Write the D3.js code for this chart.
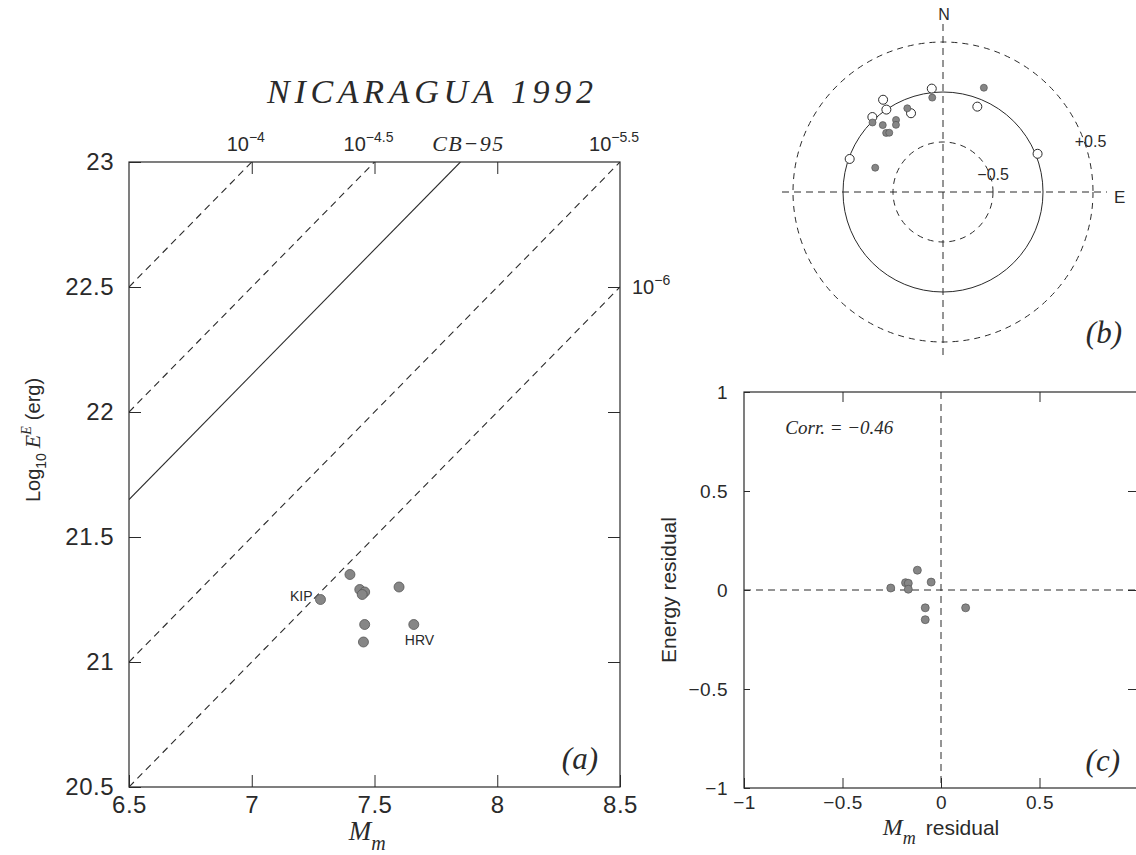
<!DOCTYPE html>
<html>
<head>
<meta charset="utf-8">
<script src="https://cdn.jsdelivr.net/npm/d3@7"></script>
<style>
  body { margin: 0; background: #fff; }
</style>
</head>
<body>
<svg id="chart" width="1136" height="855"></svg>
<script>
// Panel (a): mantle magnitude and radiated energy, one entry per station.
var stationMm = [7.28, 7.40, 7.44, 7.46, 7.45, 7.60, 7.46, 7.455, 7.66];
var stationLogE = [21.25, 21.35, 21.29, 21.28, 21.27, 21.30, 21.15, 21.08, 21.15];
var stationNames = ['KIP', '', '', '', '', '', '', '', 'HRV'];

// Reference lines: log10 E = Mm + offset (theta = E / M0).
var thetaOffsets = [16, 15.5, 15.15, 14.5, 14];
var thetaLabels = ['−4', '−4.5', 'CB−95', '−5.5', '−6'];
var thetaDashed = [true, true, false, true, true];

// Panel (a) tick labels.
var aXTicks = [6.5, 7, 7.5, 8, 8.5];
var aYTicks = [20.5, 21, 21.5, 22, 22.5, 23];

// Panel (b): energy residuals against station azimuth (degrees from N).
var filledAzimuth = [21.4, 353.5, 336.9, 314.6, 318, 326.9, 325, 316.1, 317.8, 289.7];
var filledResidual = [0.12, -0.05, -0.09, -0.01, -0.10, -0.14, -0.18, -0.18, -0.20, -0.28];
var openAzimuth = [353.8, 327, 325.5, 316.7, 337.9, 21.9, 289.5, 68];
var openResidual = [0.04, 0.10, 0.00, 0.03, -0.15, -0.08, -0.01, 0.02];
var ringValues = [-0.5, 0, 0.5];

// Panel (c): magnitude residual against energy residual.
var mmResidual = [-0.12, -0.18, -0.166, -0.166, -0.255, -0.05, -0.08, -0.08, 0.125];
var energyResidual = [0.10, 0.037, 0.034, 0.004, 0.01, 0.04, -0.09, -0.15, -0.09];
var cTicks = [-1, -0.5, 0, 0.5, 1];
var corrValue = -0.46;

var SANS = 'Liberation Sans, Arial, sans-serif';
var SERIF = 'Liberation Serif, Times New Roman, serif';
var INK = '#2a2a2a';
var DOT = '#868686';

var svg = d3.select('#chart');
var fmt = d3.format('');

// Strip the domain path and give ticks/labels the scanned-plot look.
function styleAxis(g, size) {
  g.select('.domain').remove();
  g.selectAll('.tick line').attr('stroke', INK).attr('stroke-width', 1);
  g.selectAll('.tick text')
    .attr('font-family', SANS)
    .attr('font-size', size)
    .attr('letter-spacing', 0.5)
    .attr('fill', INK);
}

// ---------------- Panel (a) ----------------
var ax = d3.scaleLinear().domain([6.5, 8.5]).range([129, 620]);
var ay = d3.scaleLinear().domain([20.5, 23]).range([787, 162]);
var pa = svg.append('g');

pa.append('defs').append('clipPath').attr('id', 'clipA')
  .append('rect')
  .attr('x', ax(6.5)).attr('y', ay(23))
  .attr('width', ax(8.5) - ax(6.5)).attr('height', ay(20.5) - ay(23));

pa.append('g').attr('transform', 'translate(0,' + ay(20.5) + ')')
  .call(d3.axisBottom(ax).tickValues(aXTicks).tickSizeInner(-12).tickSizeOuter(0)
    .tickPadding(9).tickFormat(fmt))
  .call(styleAxis, 24);

pa.append('g').attr('transform', 'translate(' + ax(6.5) + ',0)')
  .call(d3.axisLeft(ay).tickValues(aYTicks).tickSizeInner(-12).tickSizeOuter(0)
    .tickPadding(15).tickFormat(fmt))
  .call(styleAxis, 24);

pa.append('g').attr('transform', 'translate(0,' + ay(23) + ')')
  .call(d3.axisTop(ax).tickValues(aXTicks.slice(1, -1)).tickSizeInner(-12)
    .tickSizeOuter(0).tickFormat(function() { return ''; }))
  .call(styleAxis, 1);

pa.append('g').attr('transform', 'translate(' + ax(8.5) + ',0)')
  .call(d3.axisRight(ay).tickValues(aYTicks.slice(1, -1)).tickSizeInner(-12)
    .tickSizeOuter(0).tickFormat(function() { return ''; }))
  .call(styleAxis, 1);

pa.append('rect')
  .attr('x', ax(6.5)).attr('y', ay(23))
  .attr('width', ax(8.5) - ax(6.5)).attr('height', ay(20.5) - ay(23))
  .attr('fill', 'none').attr('stroke', INK).attr('stroke-width', 1.2);

// Constant-theta lines, cut where they leave the frame.
var lineGen = d3.line();
thetaOffsets.forEach(function(c, i) {
  var x1 = Math.min(8.5, 23 - c);
  pa.append('path')
    .attr('clip-path', 'url(#clipA)')
    .attr('d', lineGen([[ax(6.5), ay(6.5 + c)], [ax(x1), ay(x1 + c)]]))
    .attr('fill', 'none')
    .attr('stroke', INK)
    .attr('stroke-width', 1.1)
    .attr('stroke-dasharray', thetaDashed[i] ? '7,5' : null);

  // Label each line where it exits the frame (top edge or right edge).
  var exitsTop = (8.5 + c) >= 23 - 1e-9;
  var lab = pa.append('text').attr('fill', INK);
  if (!thetaDashed[i]) {
    lab.attr('x', ax(x1) + 8).attr('y', ay(23) - 11)
      .attr('text-anchor', 'middle')
      .attr('font-family', SERIF).attr('font-style', 'italic')
      .attr('font-size', 22).attr('letter-spacing', 1.5)
      .text(thetaLabels[i]);
    return;
  }
  if (exitsTop) {
    lab.attr('x', ax(x1) - 6).attr('y', ay(23) - 11).attr('text-anchor', 'middle');
  } else {
    lab.attr('x', ax(8.5) + 12).attr('y', ay(x1 + c) + 7).attr('text-anchor', 'start');
  }
  lab.append('tspan').attr('font-family', SANS).attr('font-size', 20).text('10');
  lab.append('tspan').attr('font-family', SANS).attr('font-size', 14)
    .attr('dy', -9).text(thetaLabels[i]);
});

// Station points.
pa.selectAll('circle.st')
  .data(stationMm)
  .enter().append('circle')
  .attr('class', 'st')
  .attr('cx', function(d) { return ax(d); })
  .attr('cy', function(d, i) { return ay(stationLogE[i]); })
  .attr('r', 5)
  .attr('fill', DOT)
  .attr('stroke', '#555')
  .attr('stroke-width', 0.8);

stationNames.forEach(function(name, i) {
  if (!name) return;
  var px = ax(stationMm[i]), py = ay(stationLogE[i]);
  var t = pa.append('text')
    .attr('font-family', SANS).attr('font-size', 14).attr('fill', INK)
    .text(name);
  if (i === 0) {
    t.attr('x', px - 8).attr('y', py + 1).attr('text-anchor', 'end');
  } else {
    t.attr('x', px - 9).attr('y', py + 20);
  }
});

// Title, axis titles and panel tag.
svg.append('text')
  .attr('x', 430).attr('y', 103)
  .attr('text-anchor', 'middle')
  .attr('font-family', SERIF).attr('font-style', 'italic')
  .attr('font-size', 34).attr('fill', INK)
  .attr('textLength', 326).attr('lengthAdjust', 'spacing')
  .text('NICARAGUA 1992');

var yLab = svg.append('text')
  .attr('transform', 'translate(40,440) rotate(-90)')
  .attr('text-anchor', 'middle').attr('fill', INK);
yLab.append('tspan').attr('font-family', SANS).attr('font-size', 20).text('Log');
yLab.append('tspan').attr('font-family', SANS).attr('font-size', 14).attr('dy', 6).text('10');
yLab.append('tspan').attr('font-family', SERIF).attr('font-style', 'italic')
  .attr('font-size', 22).attr('dy', -6).attr('dx', 5).text('E');
yLab.append('tspan').attr('font-family', SERIF).attr('font-style', 'italic')
  .attr('font-size', 14).attr('dy', -9).text('E');
yLab.append('tspan').attr('font-family', SANS).attr('font-size', 20)
  .attr('dy', 9).attr('dx', 6).text('(erg)');

var xLab = svg.append('text')
  .attr('x', ax(7.47)).attr('y', 840)
  .attr('text-anchor', 'middle').attr('fill', INK)
  .attr('font-family', SERIF).attr('font-style', 'italic');
xLab.append('tspan').attr('font-size', 27).text('M');
xLab.append('tspan').attr('font-size', 20).attr('dy', 10).text('m');

svg.append('text')
  .attr('x', ax(8.5) - 22).attr('y', ay(20.5) - 18)
  .attr('text-anchor', 'end')
  .attr('font-family', SERIF).attr('font-style', 'italic')
  .attr('font-size', 31).attr('fill', INK)
  .text('(a)');

// ---------------- Panel (b) ----------------
var pcx = 943, pcy = 192;
var pr = d3.scaleLinear().domain([-1, 0.5]).range([0, 150]);
var pb = svg.append('g');

function polarX(az, res) { return pcx + pr(res) * Math.sin(az * Math.PI / 180); }
function polarY(az, res) { return pcy - pr(res) * Math.cos(az * Math.PI / 180); }

ringValues.forEach(function(v) {
  pb.append('circle')
    .attr('cx', pcx).attr('cy', pcy).attr('r', pr(v))
    .attr('fill', 'none').attr('stroke', INK).attr('stroke-width', 1)
    .attr('stroke-dasharray', v === 0 ? null : '6,5');
});

var outer = pr(0.5);
pb.append('line')
  .attr('x1', pcx).attr('x2', pcx)
  .attr('y1', pcy - outer - 18).attr('y2', pcy + outer + 18)
  .attr('stroke', INK).attr('stroke-width', 1).attr('stroke-dasharray', '7,5');
pb.append('line')
  .attr('x1', pcx - outer - 11).attr('x2', pcx + outer + 14)
  .attr('y1', pcy).attr('y2', pcy)
  .attr('stroke', INK).attr('stroke-width', 1).attr('stroke-dasharray', '7,5');

pb.append('text')
  .attr('x', pcx + 1).attr('y', pcy - outer - 22)
  .attr('text-anchor', 'middle')
  .attr('font-family', SANS).attr('font-size', 16).attr('fill', INK)
  .text('N');
pb.append('text')
  .attr('x', pcx + outer + 21).attr('y', pcy + 11)
  .attr('font-family', SANS).attr('font-size', 17).attr('fill', INK)
  .text('E');

// Ring labels along one ray.
[[0.5, '+0.5', 6], [-0.5, '−0.5', 3]].forEach(function(r) {
  var rad = (pr(r[0]) + r[2]);
  pb.append('text')
    .attr('x', pcx + rad * Math.sin(71 * Math.PI / 180))
    .attr('y', pcy - rad * Math.cos(71 * Math.PI / 180))
    .attr('dy', '0.35em')
    .attr('text-anchor', 'middle')
    .attr('font-family', SANS).attr('font-size', 16).attr('fill', INK)
    .text(r[1]);
});

pb.selectAll('circle.open')
  .data(openAzimuth)
  .enter().append('circle')
  .attr('class', 'open')
  .attr('cx', function(d, i) { return polarX(d, openResidual[i]); })
  .attr('cy', function(d, i) { return polarY(d, openResidual[i]); })
  .attr('r', 4.5)
  .attr('fill', '#fff').attr('stroke', INK).attr('stroke-width', 1);

pb.selectAll('circle.filled')
  .data(filledAzimuth)
  .enter().append('circle')
  .attr('class', 'filled')
  .attr('cx', function(d, i) { return polarX(d, filledResidual[i]); })
  .attr('cy', function(d, i) { return polarY(d, filledResidual[i]); })
  .attr('r', 3.5)
  .attr('fill', DOT).attr('stroke', '#555').attr('stroke-width', 0.7);

pb.append('text')
  .attr('x', 1122).attr('y', 343)
  .attr('text-anchor', 'end')
  .attr('font-family', SERIF).attr('font-style', 'italic')
  .attr('font-size', 31).attr('fill', INK)
  .text('(b)');

// ---------------- Panel (c) ----------------
var cx = d3.scaleLinear().domain([-1, 1]).range([744, 1138]);
var cy = d3.scaleLinear().domain([-1, 1]).range([788, 392]);
var pc = svg.append('g');

// The right end of the x axis falls on the picture edge, so its label is left off.
pc.append('g').attr('transform', 'translate(0,' + cy(-1) + ')')
  .call(d3.axisBottom(cx).tickValues(cTicks).tickSizeInner(-10).tickSizeOuter(0)
    .tickPadding(8).tickFormat(function(d) { return d === 1 ? '' : fmt(d); }))
  .call(styleAxis, 19);

pc.append('g').attr('transform', 'translate(' + cx(-1) + ',0)')
  .call(d3.axisLeft(cy).tickValues(cTicks).tickSizeInner(-6).tickSizeOuter(0)
    .tickPadding(16).tickFormat(fmt))
  .call(styleAxis, 19);

pc.append('g').attr('transform', 'translate(0,' + cy(1) + ')')
  .call(d3.axisTop(cx).tickValues([-0.5, 0.5]).tickSizeInner(-10)
    .tickSizeOuter(0).tickFormat(function() { return ''; }))
  .call(styleAxis, 1);

pc.append('g').attr('transform', 'translate(' + cx(1) + ',0)')
  .call(d3.axisRight(cy).tickValues([-0.5, 0, 0.5]).tickSizeInner(-10)
    .tickSizeOuter(0).tickFormat(function() { return ''; }))
  .call(styleAxis, 1);

pc.append('rect')
  .attr('x', cx(-1)).attr('y', cy(1))
  .attr('width', cx(1) - cx(-1)).attr('height', cy(-1) - cy(1))
  .attr('fill', 'none').attr('stroke', INK).attr('stroke-width', 1.2);

pc.append('line')
  .attr('x1', cx(0)).attr('x2', cx(0)).attr('y1', cy(1)).attr('y2', cy(-1))
  .attr('stroke', INK).attr('stroke-width', 1).attr('stroke-dasharray', '7,5');
pc.append('line')
  .attr('x1', cx(-1)).attr('x2', cx(1)).attr('y1', cy(0)).attr('y2', cy(0))
  .attr('stroke', INK).attr('stroke-width', 1).attr('stroke-dasharray', '7,5');

pc.selectAll('circle.res')
  .data(mmResidual)
  .enter().append('circle')
  .attr('class', 'res')
  .attr('cx', function(d) { return cx(d); })
  .attr('cy', function(d, i) { return cy(energyResidual[i]); })
  .attr('r', 4)
  .attr('fill', DOT).attr('stroke', '#555').attr('stroke-width', 0.7);

pc.append('text')
  .attr('x', cx(-0.79)).attr('y', cy(0.79))
  .attr('font-family', SERIF).attr('font-style', 'italic')
  .attr('font-size', 19).attr('fill', INK)
  .text('Corr.  =  ' + d3.format('.2f')(corrValue));

pc.append('text')
  .attr('transform', 'translate(676,' + cy(0) + ') rotate(-90)')
  .attr('text-anchor', 'middle')
  .attr('font-family', SANS).attr('font-size', 21).attr('fill', INK)
  .text('Energy residual');

var cxLab = pc.append('text')
  .attr('x', cx(0)).attr('y', 835)
  .attr('text-anchor', 'middle').attr('fill', INK);
cxLab.append('tspan').attr('font-family', SERIF).attr('font-style', 'italic')
  .attr('font-size', 24).text('M');
cxLab.append('tspan').attr('font-family', SERIF).attr('font-style', 'italic')
  .attr('font-size', 18).attr('dy', 9).text('m');
cxLab.append('tspan').attr('font-family', SANS).attr('font-size', 21)
  .attr('dy', -9).attr('dx', 10).text('residual');

pc.append('text')
  .attr('x', 1120).attr('y', 771)
  .attr('text-anchor', 'end')
  .attr('font-family', SERIF).attr('font-style', 'italic')
  .attr('font-size', 31).attr('fill', INK)
  .text('(c)');
</script>
</body>
</html>
